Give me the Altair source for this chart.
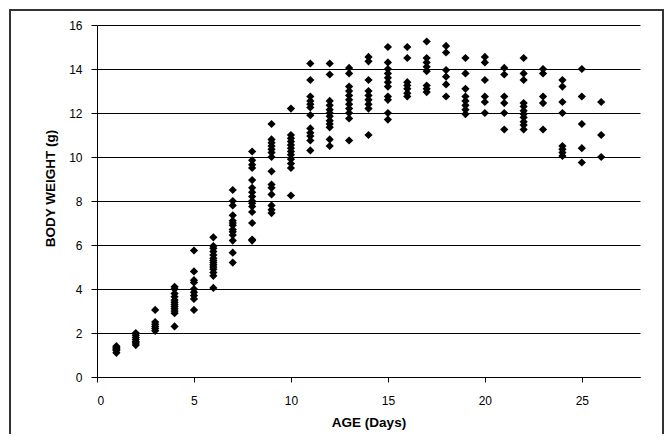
import altair as alt
import pandas as pd

ages = list(range(1, 27))
weights = [
    [1.1, 1.2, 1.25, 1.3, 1.35, 1.4],
    [1.45, 1.55, 1.6, 1.7, 1.8, 1.9, 2.0],
    [3.05, 2.5, 2.4, 2.3, 2.2, 2.1],
    [4.1, 4.0, 3.8, 3.65, 3.5, 3.4, 3.3, 3.2, 3.1, 3.0, 2.9, 2.3],
    [5.75, 4.8, 4.4, 4.3, 4.0, 3.85, 3.7, 3.55, 3.05],
    [6.35, 5.95, 5.85, 5.7, 5.55, 5.4, 5.3, 5.2, 5.1, 5.0, 4.9, 4.75, 4.6, 4.05],
    [8.5, 8.0, 7.8, 7.35, 7.1, 7.0, 6.9, 6.7, 6.6, 6.45, 6.2, 5.65, 5.2],
    [10.25, 9.85, 9.65, 9.5, 8.95, 8.6, 8.4, 8.2, 8.0, 7.9, 7.75, 7.5, 7.0, 6.25, 6.2],
    [11.5, 10.8, 10.65, 10.5, 10.35, 10.2, 10.0, 9.35, 8.75, 8.6, 8.3, 7.8, 7.6, 7.45],
    [12.2, 11.0, 10.85, 10.7, 10.55, 10.4, 10.25, 10.1, 9.9, 9.7, 9.5, 8.25],
    [14.25, 13.5, 12.75, 12.55, 12.4, 12.25, 11.9, 11.3, 11.1, 10.95, 10.75, 10.3],
    [14.25, 13.75, 12.55, 12.35, 12.15, 12.0, 11.85, 11.65, 11.5, 11.35, 10.8, 10.5],
    [14.05, 13.8, 13.2, 13.0, 12.8, 12.6, 12.4, 12.2, 12.0, 11.75, 10.75],
    [14.55, 14.35, 13.5, 13.0, 12.8, 12.6, 12.4, 12.2, 11.0],
    [15.0, 14.3, 14.0, 13.8, 13.6, 13.4, 13.2, 12.75, 12.6, 12.0, 11.7],
    [15.0, 14.5, 13.4, 13.25, 13.1, 12.9, 12.75],
    [15.25, 14.5, 14.3, 14.1, 13.9, 13.25, 13.1, 12.95],
    [15.05, 14.75, 13.95, 13.65, 13.3, 12.75],
    [14.5, 13.8, 13.1, 12.75, 12.55, 12.35, 12.15, 11.95],
    [14.55, 14.3, 13.5, 12.75, 12.5, 12.0],
    [14.05, 13.75, 12.75, 12.45, 12.0, 11.25],
    [14.5, 13.8, 13.5, 12.45, 12.3, 12.1, 11.95, 11.8, 11.6, 11.45, 11.25],
    [14.0, 13.8, 12.75, 12.45, 11.25],
    [13.5, 13.2, 12.5, 12.0, 10.5, 10.35, 10.2, 10.05],
    [14.0, 12.75, 11.5, 10.4, 9.75],
    [12.5, 11.0, 10.0],
]
x_ticks = [0, 5, 10, 15, 20, 25]
y_ticks = [0, 2, 4, 6, 8, 10, 12, 14, 16]

rows = [{"age": a, "weight": w} for a, ws in zip(ages, weights) for w in ws]
df = pd.DataFrame(rows)

FONT = "Liberation Sans"

points = alt.Chart(df).mark_point(
    shape="diamond", filled=True, color="black", size=68, opacity=1
).encode(
    x=alt.X("age:Q", scale=alt.Scale(domain=[0, 28], nice=False),
            axis=alt.Axis(values=x_ticks, title="AGE (Days)", grid=False,
                          tickSize=5, labelPadding=13, titlePadding=9,
                          domainColor="black", tickColor="black")),
    y=alt.Y("weight:Q", scale=alt.Scale(domain=[0, 16], nice=False),
            axis=alt.Axis(values=y_ticks, title="BODY WEIGHT (g)", grid=True,
                          gridColor="black", gridOpacity=1, gridWidth=1,
                          domainColor="black", tickColor="black",
                          tickSize=6, labelPadding=9,
                          titleX=-40, titleY=163)),
)

frame_data = pd.DataFrame({"k": [0]})
left = alt.Chart(frame_data).mark_rule(color="#333333", strokeWidth=2).encode(
    x=alt.value(-87), y=alt.value(-15), y2=alt.value(420))
right = alt.Chart(frame_data).mark_rule(color="#333333", strokeWidth=2).encode(
    x=alt.value(566), y=alt.value(-15), y2=alt.value(420))
top = alt.Chart(frame_data).mark_rule(color="#333333", strokeWidth=2).encode(
    x=alt.value(-88), x2=alt.value(567), y=alt.value(-15))

chart = alt.layer(points, left, right, top).properties(
    width=543, height=352,
    background="white",
    autosize=alt.AutoSizeParams(type="none"),
    padding={"left": 89, "top": 17, "right": 24, "bottom": 57},
).configure_view(stroke=None).configure_axis(
    labelFont=FONT, titleFont=FONT, labelFontSize=12, titleFontSize=13.5,
    labelColor="black", titleColor="black", domainColor="black",
    tickColor="black", gridColor="black", gridWidth=1, domainWidth=1,
    titleFontWeight="bold",
)

chart.save("out.html", embed_options={"renderer": "svg", "actions": False})
